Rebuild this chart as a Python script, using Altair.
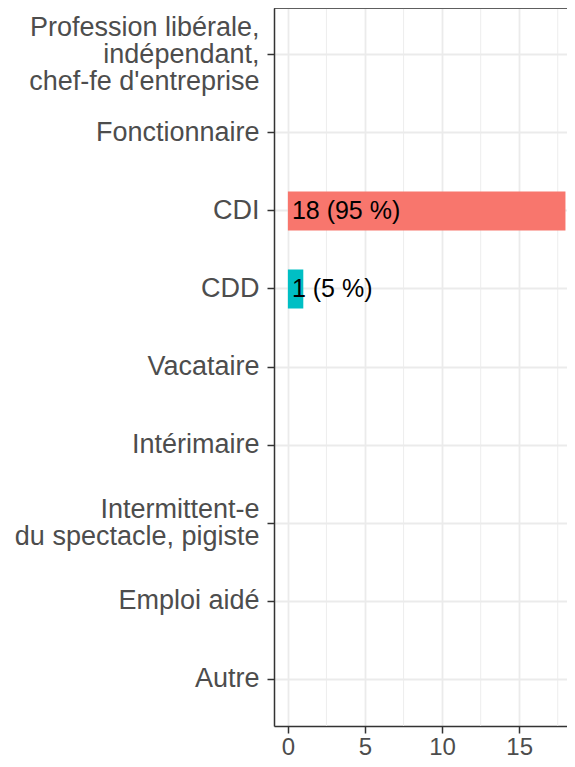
import altair as alt
import pandas as pd

categories = [
    "Profession libérale,\nindépendant,\nchef-fe d'entreprise",
    "Fonctionnaire",
    "CDI",
    "CDD",
    "Vacataire",
    "Intérimaire",
    "Intermittent-e\ndu spectacle, pigiste",
    "Emploi aidé",
    "Autre",
]
counts = [0, 0, 18, 1, 0, 0, 0, 0, 0]
labels = ["", "", "18 (95 %)", "1 (5 %)", "", "", "", "", ""]
bar_colors = {"CDI": "#F8766D", "CDD": "#00BFC4"}
major_ticks = [0, 5, 10, 15]
minor_ticks = [2.5, 7.5, 12.5, 17.5]

W = 293
H = 718
FONT = "Liberation Sans"

df = pd.DataFrame({"cat": categories, "n": counts, "lab": labels})
df = df[df["n"] > 0]
minor_df = pd.DataFrame({"v": minor_ticks})

xscale = alt.Scale(domain=[-0.9, 18.1], zero=False, nice=False)
yscale = alt.Scale(domain=categories, paddingInner=0.5, paddingOuter=0.35)

label_offset = {
    "condition": [
        {"test": "indexof(datum.value, 'Profession') >= 0", "value": -27},
        {"test": "indexof(datum.value, 'Intermittent') >= 0", "value": -13.5},
    ],
    "value": 0,
}

minor = alt.Chart(minor_df).mark_rule(color="#EBEBEB", strokeWidth=0.9).encode(
    x=alt.X("v:Q", scale=xscale, title=None)
)

bars = alt.Chart(df).mark_bar().encode(
    y=alt.Y("cat:N", scale=yscale, sort=categories, title=None,
            axis=alt.Axis(labelExpr="split(datum.label, '\\n')", labelFontSize=27,
                          labelColor="#4D4D4D", labelLineHeight=27, labelPadding=8,
                          labelOffset=label_offset,
                          tickSize=7, tickColor="#333333", tickWidth=1.5,
                          domainColor="#333333", domainWidth=1.5,
                          grid=True, gridColor="#EBEBEB", gridWidth=1.8,
                          labelFont=FONT, labelLimit=400)),
    x=alt.X("n:Q", scale=xscale, title=None,
            axis=alt.Axis(values=major_ticks, labelFontSize=24, labelColor="#4D4D4D",
                          labelPadding=2, tickSize=7, tickColor="#333333", tickWidth=1.5,
                          domainColor="#333333", domainWidth=1.5,
                          grid=True, gridColor="#EBEBEB", gridWidth=1.8,
                          labelFont=FONT, labelFlush=False)),
    x2=alt.datum(0),
    color=alt.Color("cat:N", scale=alt.Scale(domain=list(bar_colors.keys()),
                                             range=list(bar_colors.values())),
                    legend=None),
)

text = alt.Chart(df).mark_text(align="left", baseline="middle", dx=4, fontSize=25,
                               font=FONT, color="black").encode(
    y=alt.Y("cat:N", scale=yscale, sort=categories, title=None),
    x=alt.datum(0),
    text="lab:N",
)

top = alt.Chart(pd.DataFrame({"a": [0]})).mark_rule(color="#333333", strokeWidth=1.5).encode(
    y=alt.value(0), x=alt.value(0), x2=alt.value(W)
)

chart = alt.layer(minor, bars, text, top).properties(
    width=W, height=H,
    autosize=alt.AutoSizeParams(type="none"),
    padding={"left": 266, "top": 0, "right": 0, "bottom": 33},
).configure_view(stroke=None).configure(font=FONT)

chart.save("out.html", embed_options={"renderer": "svg", "actions": False})
